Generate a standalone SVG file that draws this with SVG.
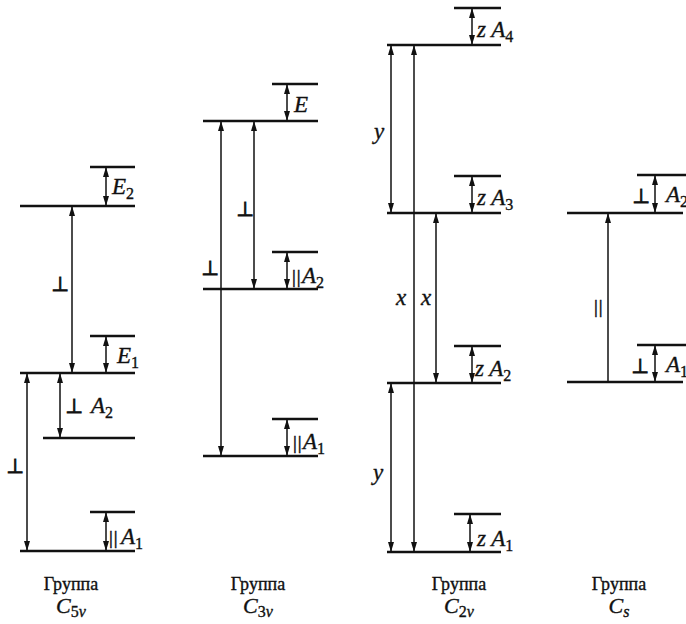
<svg xmlns="http://www.w3.org/2000/svg" width="686" height="624" viewBox="0 0 686 624">
  <style>
    .lvl { stroke: #111; stroke-width: 2.4; fill: none; }
    .arr { stroke: #111; stroke-width: 1.5; fill: none; }
    .both { marker-start: url(#head); marker-end: url(#head); }
    .up { marker-end: url(#head); }
    text { fill: #111; stroke: #111; stroke-width: 0.35; }
    .sym { font-family: "Liberation Serif", "Times New Roman", serif; font-style: italic; font-size: 23px; }
    .sub { font-size: 16px; font-style: normal; }
    .perp { font-family: "DejaVu Sans", sans-serif; font-size: 20px; text-anchor: middle; stroke-width: 0.9; }
    .par { font-family: "Liberation Serif", "Times New Roman", serif; font-size: 19px; stroke-width: 0.5; letter-spacing: 1px; }
    .cap { font-family: "Liberation Serif", "Times New Roman", serif; font-size: 18px; text-anchor: middle; }
    .capc { font-family: "Liberation Serif", "Times New Roman", serif; font-style: italic; font-size: 22px; text-anchor: middle; }
  </style>
  <defs>
    <marker id="head" viewBox="0 0 10 6" refX="10" refY="3" markerWidth="10" markerHeight="6" markerUnits="userSpaceOnUse" orient="auto-start-reverse">
      <path d="M0,0 L10,3 L0,6 z" fill="#111" stroke="none"/>
    </marker>
  </defs>
  <rect width="686" height="624" fill="#fff"/>

  <!-- C5v levels -->
  <g id="c5v">
    <line class="lvl" x1="20" y1="206" x2="135" y2="206"/>
    <line class="lvl" x1="20" y1="373" x2="135" y2="373"/>
    <line class="lvl" x1="43" y1="438" x2="135" y2="438"/>
    <line class="lvl" x1="20" y1="551" x2="135" y2="551"/>
    <line class="lvl" x1="90" y1="167" x2="135" y2="167"/>
    <line class="lvl" x1="90" y1="336" x2="135" y2="336"/>
    <line class="lvl" x1="90" y1="512" x2="135" y2="512"/>
    <text class="sym" x="112" y="194">E<tspan class="sub" dy="5">2</tspan></text>
    <text class="sym" x="117" y="363">E<tspan class="sub" dy="5">1</tspan></text>
    <text class="perp" x="60" y="291">⊥</text>
    <text class="perp" x="74" y="413">⊥</text>
    <text class="sym" x="91" y="413">A<tspan class="sub" dy="5">2</tspan></text>
    <text class="perp" x="15" y="473">⊥</text>
    <text class="par" x="109" y="544">||</text>
    <text class="sym" x="121" y="544">A<tspan class="sub" dy="5">1</tspan></text>
  </g>

  <!-- C3v levels -->
  <g id="c3v">
    <line class="lvl" x1="203" y1="121" x2="318" y2="121"/>
    <line class="lvl" x1="203" y1="289" x2="318" y2="289"/>
    <line class="lvl" x1="203" y1="456" x2="318" y2="456"/>
    <line class="lvl" x1="272" y1="84" x2="318" y2="84"/>
    <line class="lvl" x1="272" y1="252" x2="318" y2="252"/>
    <line class="lvl" x1="272" y1="419" x2="318" y2="419"/>
    <text class="sym" x="294" y="112">E</text>
    <text class="perp" x="245" y="216">⊥</text>
    <text class="perp" x="210" y="275">⊥</text>
    <text class="par" x="292" y="283">||</text>
    <text class="sym" x="302" y="283">A<tspan class="sub" dy="5">2</tspan></text>
    <text class="par" x="293" y="449">||</text>
    <text class="sym" x="303" y="449">A<tspan class="sub" dy="5">1</tspan></text>
  </g>

  <!-- C2v levels -->
  <g id="c2v">
    <line class="lvl" x1="387" y1="45" x2="501" y2="45"/>
    <line class="lvl" x1="387" y1="213" x2="501" y2="213"/>
    <line class="lvl" x1="387" y1="383" x2="501" y2="383"/>
    <line class="lvl" x1="387" y1="552" x2="501" y2="552"/>
    <line class="lvl" x1="454" y1="8" x2="501" y2="8"/>
    <line class="lvl" x1="454" y1="176" x2="501" y2="176"/>
    <line class="lvl" x1="454" y1="346" x2="501" y2="346"/>
    <line class="lvl" x1="454" y1="514" x2="501" y2="514"/>
    <text class="sym" x="477" y="37">z A<tspan class="sub" dy="5">4</tspan></text>
    <text class="sym" x="477" y="205">z A<tspan class="sub" dy="5">3</tspan></text>
    <text class="sym" x="475" y="376">z A<tspan class="sub" dy="5">2</tspan></text>
    <text class="sym" x="477" y="546">z A<tspan class="sub" dy="5">1</tspan></text>
    <text class="sym" x="374" y="139">y</text>
    <text class="sym" x="373" y="480">y</text>
    <text class="sym" x="396" y="305">x</text>
    <text class="sym" x="421" y="305">x</text>
  </g>

  <!-- Cs levels -->
  <g id="cs">
    <line class="lvl" x1="567" y1="213" x2="683" y2="213"/>
    <line class="lvl" x1="567" y1="382" x2="683" y2="382"/>
    <line class="lvl" x1="637" y1="175" x2="686" y2="175"/>
    <line class="lvl" x1="637" y1="345" x2="686" y2="345"/>
    <text class="perp" x="641" y="203">⊥</text>
    <text class="sym" x="666" y="202">A<tspan class="sub" dy="5">2</tspan></text>
    <text class="perp" x="640" y="373">⊥</text>
    <text class="sym" x="666" y="372">A<tspan class="sub" dy="5">1</tspan></text>
    <text class="par" x="594" y="313">||</text>
  </g>

  <!-- transitions -->
  <g id="connectors">
    <line class="arr both" x1="106" y1="167" x2="106" y2="206"/>
    <line class="arr both" x1="72" y1="206" x2="72" y2="373"/>
    <line class="arr both" x1="106" y1="336" x2="106" y2="373"/>
    <line class="arr both" x1="60" y1="373" x2="60" y2="438"/>
    <line class="arr both" x1="27" y1="373" x2="27" y2="551"/>
    <line class="arr both" x1="106" y1="512" x2="106" y2="551"/>

    <line class="arr both" x1="287" y1="84" x2="287" y2="121"/>
    <line class="arr both" x1="221" y1="121" x2="221" y2="456"/>
    <line class="arr both" x1="254" y1="121" x2="254" y2="289"/>
    <line class="arr both" x1="287" y1="252" x2="287" y2="289"/>
    <line class="arr both" x1="287" y1="419" x2="287" y2="456"/>

    <line class="arr both" x1="472" y1="8" x2="472" y2="45"/>
    <line class="arr both" x1="391" y1="45" x2="391" y2="213"/>
    <line class="arr both" x1="414" y1="45" x2="414" y2="552"/>
    <line class="arr both" x1="472" y1="176" x2="472" y2="213"/>
    <line class="arr both" x1="436" y1="213" x2="436" y2="383"/>
    <line class="arr both" x1="472" y1="346" x2="472" y2="383"/>
    <line class="arr both" x1="391" y1="383" x2="391" y2="552"/>
    <line class="arr both" x1="470" y1="514" x2="470" y2="552"/>

    <line class="arr both" x1="655" y1="175" x2="655" y2="213"/>
    <line class="arr up" x1="608" y1="382" x2="608" y2="213"/>
    <line class="arr both" x1="655" y1="345" x2="655" y2="382"/>
  </g>

  <!-- group captions -->
  <g id="captions">
    <text class="cap" x="71" y="590">Группа</text>
    <text class="capc" x="71" y="613">C<tspan class="sub" dy="4">5</tspan><tspan class="sub" style="font-style:italic">v</tspan></text>
    <text class="cap" x="258" y="590">Группа</text>
    <text class="capc" x="258" y="613">C<tspan class="sub" dy="4">3</tspan><tspan class="sub" style="font-style:italic">v</tspan></text>
    <text class="cap" x="459" y="590">Группа</text>
    <text class="capc" x="459" y="613">C<tspan class="sub" dy="4">2</tspan><tspan class="sub" style="font-style:italic">v</tspan></text>
    <text class="cap" x="619" y="590">Группа</text>
    <text class="capc" x="619" y="613">C<tspan class="sub" dy="4" style="font-style:italic">s</tspan></text>
  </g>
</svg>
